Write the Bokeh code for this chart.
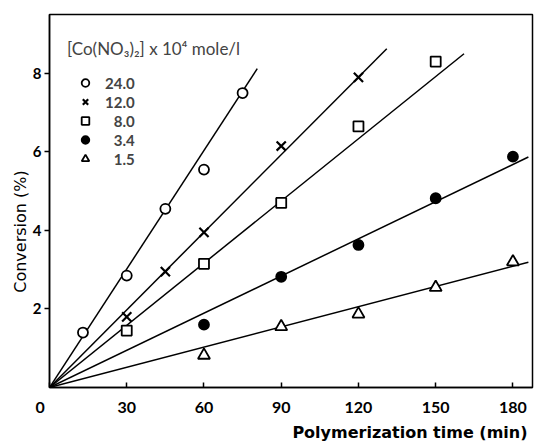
from bokeh.plotting import figure
from bokeh.models import Legend, LegendItem, FixedTicker, Title
from bokeh.embed import file_html
from bokeh.resources import INLINE

FONT = "Lato"

# ---- data ----
series_labels = ["24.0", "12.0", "\u20078.0", "\u20073.4", "\u20071.5"]
legend_title = "[Co(NO\u2083)\u2082] x 10\u2074 mole/l"

time_24 = [13, 30, 45, 60, 75]
conv_24 = [1.4, 2.85, 4.55, 5.55, 7.5]

time_12 = [30, 45, 60, 90, 120]
conv_12 = [1.8, 2.95, 3.95, 6.15, 7.9]

time_8 = [30, 60, 90, 120, 150]
conv_8 = [1.45, 3.15, 4.7, 6.65, 8.3]

time_34 = [60, 90, 120, 150, 180]
conv_34 = [1.6, 2.82, 3.63, 4.82, 5.88]

time_15 = [60, 90, 120, 150, 180]
conv_15 = [0.82, 1.55, 1.87, 2.55, 3.2]

# fitted straight lines through the origin: (0,0) -> end point
line_start_time = [0, 0, 0, 0, 0]
line_start_conv = [0, 0, 0, 0, 0]
line_end_time = [80.7, 131, 161, 186, 186]
line_end_conv = [8.12, 8.63, 8.5, 5.87, 3.19]

x_ticks = [0, 30, 60, 90, 120, 150, 180]
x_tick_labels = {0: "0\u2007\u2007"}
y_ticks = [2, 4, 6, 8]

times = [time_24, time_12, time_8, time_34, time_15]
convs = [conv_24, conv_12, conv_8, conv_34, conv_15]
markers = ["circle", "x", "square", "circle", "triangle"]
fills = ["white", "black", "white", "black", "white"]
sizes = [10, 13, 10, 10, 12]
widths = [1.8, 2.2, 1.8, 1.8, 1.8]

p = figure(width=535, height=445, x_range=(0, 187.6), y_range=(0, 9.5),
           output_backend="svg", toolbar_location=None,
           min_border_left=49, min_border_right=3, min_border_top=14,
           min_border_bottom=58)
p.background_fill_color = "white"
p.border_fill_color = "white"
p.xgrid.visible = False
p.ygrid.visible = False
p.outline_line_color = "black"
p.outline_line_width = 1.5

items = []
for i in range(5):
    p.line([line_start_time[i], line_end_time[i]],
           [line_start_conv[i], line_end_conv[i]],
           line_color="black", line_width=1.5)
    r = p.scatter(times[i], convs[i], marker=markers[i], size=sizes[i],
                  fill_color=fills[i], line_color="black", line_width=widths[i])
    items.append(LegendItem(label=series_labels[i], renderers=[r]))

legend = Legend(items=items, location=(18, 219), title=legend_title,
                margin=0, padding=0, title_standoff=14,
                border_line_color=None, background_fill_alpha=0,
                glyph_width=36, glyph_height=19, label_height=16,
                spacing=0, label_standoff=2)
legend.title_text_font = FONT
legend.title_text_font_size = "17px"
legend.title_text_font_style = "normal"
legend.label_text_font = FONT
legend.label_text_font_size = "15px"
legend.label_text_font_style = "bold"
p.add_layout(legend)

p.xaxis.ticker = FixedTicker(ticks=x_ticks)
p.xaxis.major_label_overrides = x_tick_labels
p.yaxis.ticker = FixedTicker(ticks=y_ticks)
p.xaxis.major_tick_in = 5
p.xaxis.major_tick_out = 0
p.yaxis.major_tick_in = 0
p.yaxis.major_tick_out = 5
p.xaxis.minor_tick_line_color = None
p.yaxis.minor_tick_line_color = None
for ax in (p.xaxis, p.yaxis):
    ax.axis_line_width = 1.5
    ax.major_tick_line_width = 1.5
    ax.major_label_text_font = FONT
    ax.major_label_text_font_style = "bold"
    ax.major_label_text_color = "black"
p.xaxis.major_label_text_font_size = "16px"
p.yaxis.major_label_text_font_size = "15px"
p.xaxis.major_label_standoff = 9
p.yaxis.major_label_standoff = 3

p.yaxis.axis_label = "Conversion (%)" + "\u2007" * 6
p.yaxis.axis_label_text_font = "DejaVu Sans"
p.yaxis.axis_label_text_color = "black"
p.yaxis.axis_label_text_font_size = "16px"
p.yaxis.axis_label_text_font_style = "normal"
p.yaxis.axis_label_standoff = 0

xlabel = Title(text="Polymerization time (min)", align="right", offset=5,
               standoff=4, text_font="DejaVu Sans", text_font_size="16px",
               text_font_style="bold", text_color="black")
p.add_layout(xlabel, "below")

open("out.html", "w").write(file_html(p, INLINE))
